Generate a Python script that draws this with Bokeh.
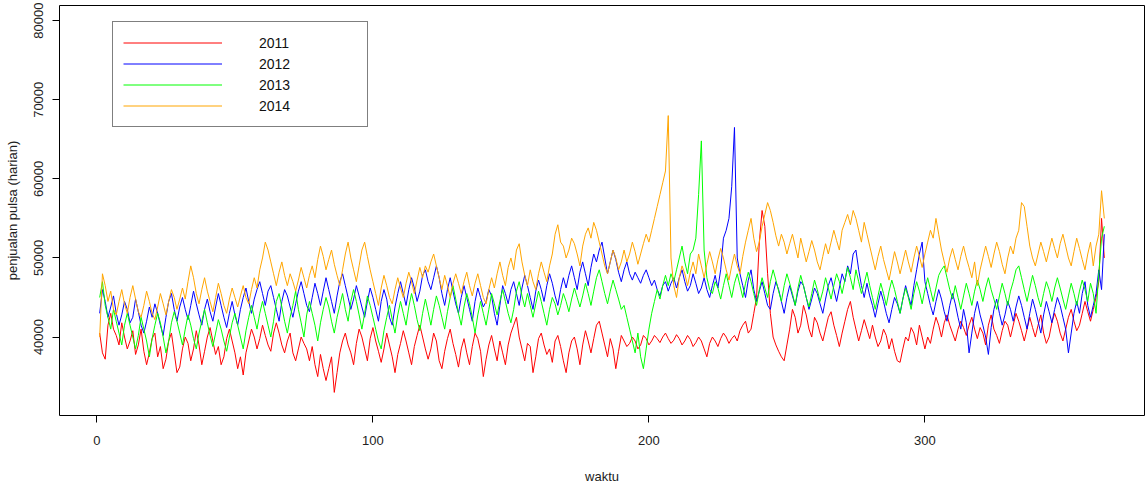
from bokeh.plotting import figure
from bokeh.models import Range1d, FixedTicker, Legend, LegendItem
from bokeh.embed import file_html
from bokeh.resources import INLINE

years = ["2011", "2012", "2013", "2014"]
colors = ["#FF0000", "#0000FF", "#00FF00", "#FFA500"]
x_ticks = [0, 100, 200, 300]
y_ticks = [40000, 50000, 60000, 70000, 80000]

v2011 = [
    40500, 38000, 37200, 41500, 43000, 41000, 40200, 39000, 41800, 40000,
    38500, 39500, 40800, 37800, 39000, 41000, 38200, 36500, 38000, 39800,
    40500, 37500, 38800, 36000, 37200, 39500, 40500, 38000, 35500, 36200,
    38500, 40000, 39200, 37000, 38500, 40800, 39000, 36500, 38200, 40000,
    41200, 39500, 37800, 38800, 36500, 37500, 39800, 41000, 39500, 38000,
    36000, 37500, 35200, 38000, 39500, 41000, 40000, 38500, 39800, 41500,
    40200, 39000, 38200, 40500, 41800, 40500, 39000, 38000, 39500, 40500,
    38000, 37000, 38500, 40000, 39200, 38500, 37000, 38800, 36500, 35000,
    37800, 36000, 34500, 36000, 37500, 33000, 35500, 38000, 39500, 40500,
    39000, 38000, 36500, 39200, 41000, 40000, 38500, 37000, 39800, 41200,
    39500, 38200, 36800, 38500, 40500, 39000, 37500, 35500, 37800, 39200,
    40800, 39500, 38000, 36500, 38800, 40200, 41500, 40000, 38500, 37200,
    38500, 40500, 39500, 37000, 36000, 38200, 39800, 41000, 39200, 37800,
    36200, 38500, 39800, 38000, 36500, 38800, 40500, 39800, 38200, 35000,
    37200, 39000, 40200, 38500, 37000, 39500, 38000, 36500, 39000, 40500,
    41500, 42500, 40000, 38500, 37000, 39200, 38800, 35500, 37500, 39800,
    40500, 39000, 37800, 38500, 36800, 39500, 40200, 38800, 37000, 35500,
    38000, 39500, 40000, 38500, 36500, 39000, 40800, 39500, 38000, 39800,
    41500, 42000, 40500, 39000, 37500, 39800, 38500, 36000, 38200, 40200,
    39500, 38800, 39200, 40000, 39500, 38500, 39000, 40200, 39800, 39000,
    39500, 40200, 39800, 39300, 40000, 40500, 39800, 39200, 39600, 40300,
    39800, 39000, 39500, 40200, 39700, 38800, 39300, 40000, 39500, 38500,
    37500, 39200, 40000, 39500, 38800, 39800, 40500, 40000, 39200, 39800,
    40200, 39500, 40800, 41500, 42000, 40500, 41000, 43000, 45000, 52000,
    56000, 54000, 48000, 43000, 40000, 39000, 38200, 37500, 37000, 39000,
    41000, 43500, 42500, 40500, 41500, 44000, 42800, 41000, 40000, 42500,
    41800, 40500, 39500, 41000, 42500, 43200, 41500, 40200, 38800, 40500,
    42000, 43500, 44500, 42500, 41000, 39500, 40800, 42200, 41000, 39800,
    41500, 40000, 38800, 39500, 41000, 40200, 38500, 39800, 38200, 37000,
    36800, 38500, 40000, 39500, 41200, 40500, 39000, 41500, 40000, 38500,
    40000, 39200, 41000, 42500, 41500, 40000, 41800, 42800, 41500, 40500,
    39500, 41000, 42000, 41200, 40200, 41500, 42500, 41000, 39800, 41200,
    40500, 39000, 41500, 42800, 41000, 40200, 39200, 40800, 42000, 41500,
    40000, 41500, 43000, 42000, 40800, 39500, 41000, 42500, 41200, 40000,
    41500, 42800, 40500, 39200, 40000, 41800, 43000, 42000, 40500, 39500,
    41000, 42500, 43500, 42000, 40800, 41500, 43000, 44500, 43200, 42000,
    43500, 45000, 47000, 55000, 50000,
]

v2012 = [
    43000, 46000, 44500, 42500, 43800, 45200, 43000, 41500, 42800, 44500,
    43500, 41800, 42500, 44800, 43200, 41500, 40500, 42000, 43800, 42500,
    44200, 43000, 41500, 40200, 42500, 44500, 45500, 43500, 42000, 43800,
    45000, 43500, 42200, 44000, 45800, 44200, 42800, 41500, 43500, 44800,
    43200, 42000, 43800, 45500, 44000, 42500, 41200, 43000, 44500, 42800,
    41500, 43500, 45000, 46200, 44500, 43000, 44800, 46000, 47000, 45500,
    44000, 45800, 46500, 45000, 43500, 42000, 44500, 46000, 45200, 43800,
    42500, 44200, 45800, 47000, 45500, 44000, 43200, 45000, 46800, 45500,
    44000, 45800, 47500, 46000, 44500, 43000, 45200, 47000, 48000, 46500,
    45000, 43500, 44800, 46500, 45200, 43800, 42500, 44500, 46200, 45000,
    43500, 42000, 44500, 46000, 44800, 42500, 41500, 43800, 45500, 47000,
    45500, 44000, 46000, 47500, 46200, 44500, 45800, 47800, 48500, 47000,
    46000, 47500, 49000, 47500, 45500, 44000, 46000, 47500, 45800, 44200,
    43000, 45000, 46500, 45000, 43500, 42000, 44500, 46200, 45000, 43800,
    44500, 46000, 45200, 43000, 41500, 44000, 46500, 45500, 44200, 46000,
    47000, 45500, 44000, 46200, 47800, 46500, 45000, 43500, 45800, 47200,
    46000, 44500, 46500, 48000, 46800, 45200, 44000, 46000, 47500, 46200,
    47800, 49000, 47500, 46000, 48200, 49500, 48000, 46500, 48800, 50500,
    49500, 51000, 52000, 50000, 48000, 49500, 51000, 49800, 48200, 47000,
    48500, 49500, 48000, 47200, 48200, 47500, 46800, 47800, 48500, 47500,
    46500, 47200, 46000, 45200, 46500, 47000, 45800, 46800, 47500, 46200,
    47500, 48500, 47000, 45800, 46500, 48000, 46800, 45500, 46200, 47500,
    46000, 45000, 46500, 47800, 46200, 48500, 52500, 53500, 55000, 59000,
    66500, 50000, 48000, 46500, 45000, 47200, 48500, 46000, 44500, 45800,
    47000, 45500, 44000, 43500, 45500, 47000, 46000, 44500, 43000, 45000,
    46500, 45200, 44000, 45800, 47000, 46500, 45000, 43500, 44800, 46200,
    45500, 44200, 43000, 44800, 46500, 47500, 46000, 44500, 46200, 48000,
    47000, 49000, 48000, 50500, 51000, 48500, 46500, 45000, 46800, 45200,
    44000, 42500, 44200, 45800, 44500, 43000, 41800, 43500, 45000, 44200,
    43000, 44800, 46500, 45200, 44000, 46500, 48500, 50500, 52000, 47000,
    45500, 44000, 42800, 44500, 46000, 44800, 43200, 42000, 44000, 45500,
    44200, 42500, 41000, 43500, 41800, 38000, 40500, 43000, 44500, 42800,
    41500, 40000, 37800, 41200, 43500, 44800, 43000, 41500, 42800, 44500,
    43500, 42000, 43800, 45200, 44000, 42500, 41000, 43000, 44800, 43500,
    42000, 40500, 42800, 44500, 43200, 41800, 43500, 45000, 44000, 42500,
    41000, 38000, 40500, 43000, 44500, 43000, 45500, 47000, 44000, 42500,
    44000, 45500, 48500, 46000, 53000,
]

v2013 = [
    45000, 47000, 44000, 42500, 41000, 43500, 42000, 40500, 39000, 41500,
    43000, 41500, 40000, 38500, 40200, 42500, 41000, 39500, 37500, 39800,
    41500, 43000, 41800, 40000, 38000, 39500, 41800, 43200, 42000, 40500,
    39000, 41000, 42800, 41500, 39800, 38500, 40500, 42000, 43500, 41800,
    40200, 38800, 40500, 42200, 41000, 39500, 38200, 40000, 41800, 43000,
    41500, 40000, 38500, 40800, 42500, 44000, 42500, 41000, 43000, 44500,
    43000, 41500, 40000, 42000, 44500, 45500, 43800, 42000, 40500, 42500,
    44000, 45800, 43500, 41800, 40000, 42800, 44500, 43000, 41500, 39500,
    41800, 43500, 45000, 43800, 42000, 40500, 42500, 44000, 45500, 43500,
    42000, 44500, 46000, 44500, 42800, 41000, 43000, 45200, 44000, 42500,
    41000, 39500, 38500, 40800, 42500, 44000, 42200, 40500, 42800, 44500,
    43000, 41500, 43800, 45500, 44000, 42200, 40800, 43000, 44800, 43200,
    41500, 43500, 45200, 44000, 42500, 41000, 43200, 45000, 46500, 44800,
    43000, 41500, 43800, 45500, 44200, 42500, 40500, 42800, 44500, 43000,
    41500, 43500, 45500, 44200, 42800, 44500, 46000, 44500, 43000, 41800,
    43500, 45800, 47000, 45200, 43800, 45500, 44000, 42500, 44200, 45800,
    44500, 43000, 41500, 43500, 45000, 44200, 42800, 44000, 45500, 44500,
    43200, 44800, 46200, 45000, 43800, 45200, 46800, 45500, 44000, 45800,
    47500, 48500, 47000, 45500, 44200, 45800, 47200, 46000, 44800, 43500,
    44000, 42500, 41000, 39500, 38000, 40500, 37500, 36000, 38500, 41000,
    43000, 44500, 46000, 44800, 46500, 47800, 46500, 48000, 47000, 48500,
    50000, 51500, 49500, 48000, 50500, 51000, 52500, 58000, 64800, 51000,
    47500, 46000, 45500, 47000, 46200, 44800, 46500, 48000, 46500, 45000,
    46800, 48000, 46500, 45000, 46800, 48200, 47000, 45500, 44000, 46000,
    47500, 46200, 45000, 47000, 48500, 47200, 45800, 44500, 46500, 48000,
    46800, 45500, 44000, 46200, 47800, 46500, 45000, 43800, 45500, 47200,
    46000, 44500, 45800, 47500, 46200, 44800, 46500, 48000, 47000, 45500,
    47200, 48800, 47500, 46000, 48500, 47000, 45500, 46800, 48200, 46500,
    45000, 43500, 45200, 46800, 45500, 44000, 45800, 47200, 46000, 44500,
    43000, 44800, 46200, 45000, 43500, 45500, 47000, 45800, 44200, 46000,
    47500, 46000, 44500, 46200, 47800, 48500, 49000, 47500, 46000, 44800,
    46500, 45000, 43500, 45200, 46800, 45500, 44000, 45800, 47200, 46000,
    44500, 46200, 47500, 46000, 44800, 43500, 45200, 46800, 45500, 44000,
    45800, 47000, 48500, 49000, 47500, 46000, 44500, 46200, 47800, 46500,
    45000, 43800, 45500, 47000, 46000, 44500, 46200, 47500, 46200, 44800,
    43500, 45200, 46800, 45500, 44000, 45800, 47200, 46000, 44500, 46800,
    45500, 43000, 48000, 52500, 54000,
]

v2014 = [
    40000, 48000, 46500, 44500, 45800, 43500, 42800, 44500, 46000, 44200,
    43000, 45000, 46500, 44800, 43200, 42500, 44000, 45800, 44500, 43000,
    42200, 43800, 45500, 44200, 42800, 44500, 46000, 45000, 43500, 44800,
    46200, 44800, 47000, 49000, 47500, 45500, 44200, 46000, 47500, 45800,
    44500, 43200, 45000, 46800, 45500, 44000, 43000, 44800, 46200, 45000,
    43800, 45200, 46500, 45000, 44200, 46000, 47500, 46200, 48500, 50000,
    52000, 51000, 49500, 48000, 46500, 48200, 49500, 47800, 46500, 48000,
    47000, 45800, 47200, 48800, 47500, 46200, 47800, 49000, 47500, 49800,
    51500, 50200, 48500, 49800, 51000, 49200, 47800, 46500, 48500, 50500,
    52000, 50000, 48500, 47000, 49000, 51000, 52000, 50200, 48500, 47000,
    45500, 44000, 46200, 47800, 46500, 45000, 44200, 46000, 47500, 46200,
    45000, 46800, 48200, 47000, 45500, 47200, 48800, 47500, 49000, 48200,
    49500, 50500, 49000, 47500, 46000, 47800, 46500, 45000, 46800, 48000,
    46800, 45500, 47000, 48200, 46500, 45200, 46800, 48000, 46500, 45000,
    44200, 46000, 47500, 46200, 48000, 49500, 47800, 46500, 48800, 50000,
    48500, 51000, 51800, 49500, 47800, 46500, 48500, 47000, 46000, 48000,
    49500, 48200, 47000, 49000, 50500, 53000, 54200, 52000, 51500, 50000,
    51000, 52500, 51800, 50500, 49000, 51500, 53000, 53800, 52500, 54500,
    53500, 52000, 50500, 49000, 48000, 49500, 51000, 50000, 48500, 49500,
    51000, 49500, 50500, 52000, 50800, 49200, 50500, 51800, 53000, 52000,
    53500, 55000, 56500, 58000, 59500, 61000, 68000, 50000, 46500, 45000,
    47500, 49000, 48000, 46500, 48200, 49500, 48000, 50500, 49000, 47500,
    49200, 50800, 49500, 48000, 49800, 51200, 50000, 48500, 47200, 49000,
    50500, 49000, 48000, 50200, 52000, 53500, 55000, 52500, 50800, 52000,
    54000, 55500, 57000, 56000, 54500, 52800, 51500, 53000, 52000, 50500,
    51800, 53000, 51500, 50000, 52500, 51000, 49500, 50800, 52200, 51000,
    49500, 48500, 50200, 51800, 50500, 52000, 53500, 52200, 51000, 53500,
    54500, 55500, 54200, 56000, 55000, 53500, 52000, 54500, 53000, 51500,
    50000, 48500, 50200, 51500, 49800, 48500, 47200, 49000, 50800, 49500,
    48000, 49500, 51000, 49500, 48200, 50000, 51500, 50200, 48800, 50500,
    52000, 53500, 52500, 55000, 53000, 51000, 49500, 48200, 50000, 51200,
    49800, 48500, 50200, 51500, 50000, 48800, 47500, 49500, 46500, 48500,
    50000, 51500, 50200, 48800, 50500, 52000, 50800, 49200, 48000, 50000,
    51500, 50500, 52500, 53500, 57000, 56500, 54000, 51500, 50000, 49000,
    50500, 52000, 50800, 49500, 51000, 52500, 51200, 50000, 51800, 53000,
    51500, 50000, 49000, 50800, 52500, 51200, 49800, 48500, 50500, 52000,
    49000, 51500, 53000, 58500, 55000,
]

series = [v2011, v2012, v2013, v2014]
FONT = "Liberation Sans"

p = figure(
    width=1147, height=486,
    output_backend="svg", toolbar_location=None,
    x_range=Range1d(-13.56, 379.56), y_range=Range1d(30080, 81920),
    min_border_left=59, min_border_right=3, min_border_top=5, min_border_bottom=68,
    x_axis_label="waktu", y_axis_label="penjualan pulsa (harian)",
)
p.background_fill_color = "white"
p.border_fill_color = "white"
p.xgrid.visible = False
p.ygrid.visible = False
p.outline_line_color = "black"
p.outline_line_width = 1
p.outline_line_alpha = 1

for ax in (p.xaxis[0], p.yaxis[0]):
    ax.axis_line_color = None
    ax.major_tick_line_color = "black"
    ax.major_tick_out = 7
    ax.major_tick_in = 0
    ax.minor_tick_line_color = None
    ax.major_label_text_font = FONT
    ax.major_label_text_font_size = "13px"
    ax.major_label_text_color = "#222222"
    ax.axis_label_text_font = FONT
    ax.axis_label_text_font_size = "13px"
    ax.axis_label_text_font_style = "normal"
    ax.axis_label_text_color = "#222222"

p.xaxis.ticker = FixedTicker(ticks=x_ticks)
p.yaxis.ticker = FixedTicker(ticks=y_ticks)
p.xaxis.major_label_standoff = 13
p.xaxis.axis_label_standoff = 21
p.yaxis.major_label_orientation = "vertical"
p.yaxis.major_label_standoff = 9
p.yaxis.axis_label_standoff = 12

renderers = []
for vals, col in zip(series, colors):
    days = list(range(1, len(vals) + 1))
    r = p.line(days, vals, line_color=col, line_width=1)
    renderers.append(r)

legend = Legend(
    items=[LegendItem(label=y, renderers=[r]) for y, r in zip(years, renderers)],
    location=(53, 288),
    padding=10, spacing=0, margin=0,
    glyph_width=99, glyph_height=21, label_height=21,
    label_standoff=37, label_width=98,
    label_text_font=FONT, label_text_font_size="14px", label_text_color="#111111",
    border_line_color="black", border_line_width=1,
    background_fill_color="white", background_fill_alpha=1,
)
p.add_layout(legend)

open("out.html", "w").write(file_html(p, INLINE))
